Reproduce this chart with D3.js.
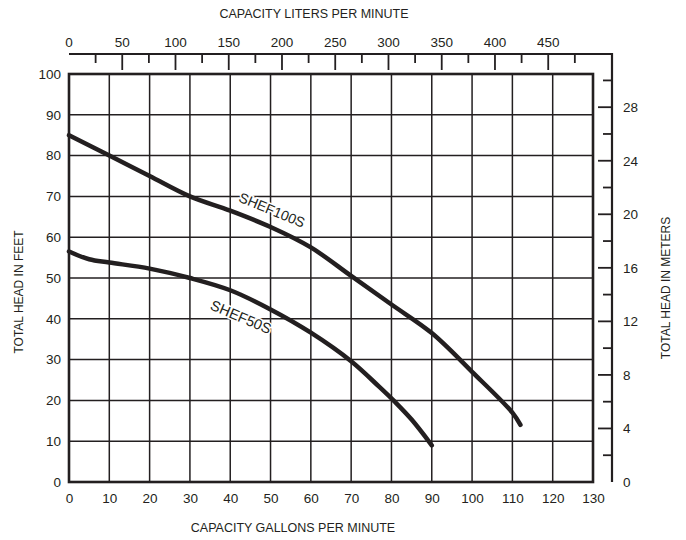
<!DOCTYPE html>
<html>
<head>
<meta charset="utf-8">
<script src="https://cdn.jsdelivr.net/npm/d3@7"></script>
<style>
  body { margin: 0; background: #fff; }
  svg { display: block; }
  text { font-family: "Liberation Sans", Arial, sans-serif; fill: #231f20; }
</style>
</head>
<body>
<svg id="graph_svg"></svg>
<script>
// pump curves, gallons per minute vs total head in feet
const gpmTicks = d3.range(0, 131, 10);
const feetTicks = d3.range(0, 101, 10);
const literTicks = d3.range(0, 451, 50);
const meterTicks = d3.range(0, 29, 4);

const shef100sGpm = [0, 10, 20, 30, 40, 50, 60, 70, 80, 90, 100, 110, 112];
const shef100sFeet = [85, 80, 75, 70, 66.5, 62.5, 57.5, 50.5, 43.5, 36.5, 27, 17, 14];

const shef50sGpm = [0, 5, 10, 20, 30, 40, 50, 60, 70, 77, 81, 85, 90];
const shef50sFeet = [56.5, 54.6, 53.8, 52.3, 50, 47, 42.3, 36.6, 29.6, 23.3, 19.5, 15.3, 9];

const LITERS_PER_GALLON = 3.785;
const METERS_PER_FOOT = 0.3048;
const ink = "#231f20";

const width = 686, height = 540;
const svg = d3.select("#graph_svg")
    .attr("width", width)
    .attr("height", height);

// scales
const x = d3.scaleLinear().domain([0, 130]).range([69, 593]);
const y = d3.scaleLinear().domain([0, 100]).range([482, 74]);
const xL = d3.scaleLinear().domain([0, 130 * LITERS_PER_GALLON]).range([69, 593]);
const yM = d3.scaleLinear().domain([0, 100 * METERS_PER_FOOT]).range([482, 74]);

// grid
svg.append("g")
    .selectAll("line")
    .data(gpmTicks.slice(1, -1))
    .enter()
    .append("line")
    .attr("x1", d => x(d)).attr("x2", d => x(d))
    .attr("y1", y(0)).attr("y2", y(100))
    .attr("stroke", ink).attr("stroke-width", 1.5);

svg.append("g")
    .selectAll("line")
    .data(feetTicks.slice(1, -1))
    .enter()
    .append("line")
    .attr("x1", x(0)).attr("x2", x(130))
    .attr("y1", d => y(d)).attr("y2", d => y(d))
    .attr("stroke", ink).attr("stroke-width", 1.5);

// frame
svg.append("rect")
    .attr("x", x(0)).attr("y", y(100))
    .attr("width", x(130) - x(0)).attr("height", y(0) - y(100))
    .attr("fill", "none").attr("stroke", ink).attr("stroke-width", 2.6);

// bottom axis (gpm)
const axisBottom = svg.append("g")
    .attr("transform", `translate(0, ${y(0)})`)
    .call(d3.axisBottom(x).tickValues(gpmTicks).tickSize(0).tickPadding(11));
axisBottom.select(".domain").remove();
axisBottom.selectAll("text").style("font-size", "13.5px").attr("fill", ink);

// left axis (feet)
const axisLeft = svg.append("g")
    .attr("transform", `translate(${x(0)}, 0)`)
    .call(d3.axisLeft(y).tickValues(feetTicks).tickSize(0).tickPadding(8));
axisLeft.select(".domain").remove();
axisLeft.selectAll("text").style("font-size", "13.5px").attr("fill", ink);

// top axis (liters) and right axis (meters) form a bracket
const topY = 54, rightX = 612;
svg.append("path")
    .attr("d", `M${x(0)},${topY}H${rightX}V${y(0)}`)
    .attr("fill", "none").attr("stroke", ink).attr("stroke-width", 2.2);

const literMinor = d3.range(25, 476, 50);
svg.append("g")
    .selectAll("line")
    .data(literTicks.slice(1).map(d => [d, 16]).concat(literMinor.map(d => [d, 9])))
    .enter()
    .append("line")
    .attr("x1", d => xL(d[0])).attr("x2", d => xL(d[0]))
    .attr("y1", topY).attr("y2", d => topY + d[1])
    .attr("stroke", ink).attr("stroke-width", 1.8);

svg.append("g")
    .selectAll("text")
    .data(literTicks)
    .enter()
    .append("text")
    .attr("x", d => xL(d))
    .attr("y", 47)
    .attr("text-anchor", "middle")
    .style("font-size", "13.5px")
    .text(d => d);

const meterMinor = d3.range(2, 31, 4);
svg.append("g")
    .selectAll("line")
    .data(meterTicks.slice(1).map(d => [d, 14]).concat(meterMinor.map(d => [d, 9])))
    .enter()
    .append("line")
    .attr("x1", d => rightX - d[1]).attr("x2", rightX)
    .attr("y1", d => yM(d[0])).attr("y2", d => yM(d[0]))
    .attr("stroke", ink).attr("stroke-width", 1.8);

svg.append("g")
    .selectAll("text")
    .data(meterTicks)
    .enter()
    .append("text")
    .attr("x", 623)
    .attr("y", d => yM(d) + 5)
    .style("font-size", "13.5px")
    .text(d => d);

// axis titles
svg.append("text")
    .attr("x", 314).attr("y", 18)
    .attr("text-anchor", "middle")
    .style("font-size", "12.5px")
    .text("CAPACITY LITERS PER MINUTE");

svg.append("text")
    .attr("x", 293).attr("y", 532)
    .attr("text-anchor", "middle")
    .style("font-size", "12.5px")
    .text("CAPACITY GALLONS PER MINUTE");

svg.append("text")
    .attr("transform", "translate(23, 292) rotate(-90)")
    .attr("text-anchor", "middle")
    .style("font-size", "12px")
    .text("TOTAL HEAD IN FEET");

svg.append("text")
    .attr("transform", "translate(670, 288) rotate(-90)")
    .attr("text-anchor", "middle")
    .style("font-size", "12px")
    .text("TOTAL HEAD IN METERS");

// curves
const line = d3.line()
    .x(d => x(d[0]))
    .y(d => y(d[1]))
    .curve(d3.curveCatmullRom.alpha(0.5));

function drawCurve(gpm, feet) {
    svg.append("path")
        .datum(d3.zip(gpm, feet))
        .attr("d", line)
        .attr("fill", "none")
        .attr("stroke", ink)
        .attr("stroke-width", 4.5)
        .attr("stroke-linecap", "round");
}

drawCurve(shef100sGpm, shef100sFeet);
drawCurve(shef50sGpm, shef50sFeet);

// curve labels, white halo hides grid behind them
function curveLabel(text, cx, cy, angle, size) {
    svg.append("text")
        .attr("transform", `translate(${cx}, ${cy}) rotate(${angle})`)
        .attr("text-anchor", "middle")
        .attr("dy", "0.35em")
        .style("font-size", size)
        .attr("stroke", "#fff")
        .attr("stroke-width", 3)
        .attr("paint-order", "stroke")
        .text(text);
}

curveLabel("SHEF100S", 272, 210, 22.5, "14px");
curveLabel("SHEF50S", 241, 317, 23, "14.5px");
</script>
</body>
</html>
